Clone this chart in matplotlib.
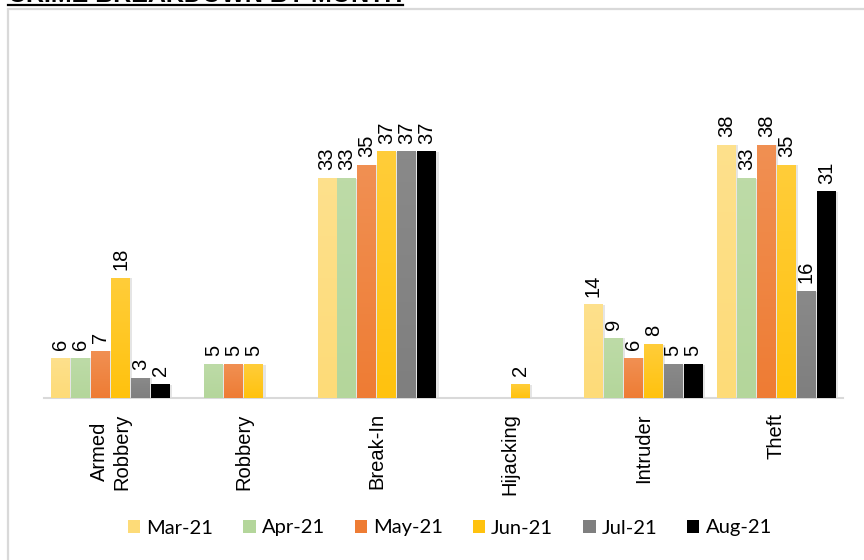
import numpy as np
import matplotlib
matplotlib.use("Agg")
import matplotlib.pyplot as plt
from matplotlib.patches import Patch, Rectangle
from matplotlib.lines import Line2D
from matplotlib.colors import LinearSegmentedColormap, to_rgb

categories = ["Armed\nRobbery", "Robbery", "Break-In", "Hijacking", "Intruder", "Theft"]
months = ["Mar-21", "Apr-21", "May-21", "Jun-21", "Jul-21", "Aug-21"]

mar21 = [6, 0, 33, 0, 14, 38]
apr21 = [6, 5, 33, 0, 9, 33]
may21 = [7, 5, 35, 0, 6, 38]
jun21 = [18, 5, 37, 2, 8, 35]
jul21 = [3, 0, 37, 0, 5, 16]
aug21 = [2, 0, 37, 0, 5, 31]

series = [mar21, apr21, may21, jun21, jul21, aug21]
colors = ["#FDDB78", "#B4D69B", "#EE7C34", "#FFC20E", "#7F7F7F", "#000000"]
shine = [0.15, 0.12, 0.15, 0.18, 0.08, 0.0]

W, H = 864, 560
fig = plt.figure(figsize=(W / 100, H / 100), dpi=100)
fig.patch.set_facecolor("white")

ax = fig.add_axes([44 / W, 1 - 398 / H, 799 / W, 332.5 / H])

x = np.arange(len(categories))
slot = 0.15
bw = 0.142


def lighten(c, f):
    r, g, b = to_rgb(c)
    return (r + (1 - r) * f, g + (1 - g) * f, b + (1 - b) * f)


grad = np.linspace(0, 1, 64).reshape(-1, 1)
for i, (vals, col) in enumerate(zip(series, colors)):
    xs = x + (i - 2.5) * slot
    # soft shadow
    ax.bar(xs + 0.018, vals, width=bw, color="black", alpha=0.10, zorder=1)
    bars = ax.bar(xs, vals, width=bw, color=col, zorder=2)
    cmap = LinearSegmentedColormap.from_list("g", [col, lighten(col, shine[i])])
    for b, v in zip(bars, vals):
        if v <= 0:
            continue
        x0 = b.get_x()
        ax.imshow(grad, extent=[x0, x0 + bw, 0, v], cmap=cmap, aspect="auto",
                  origin="lower", zorder=3)
        ax.annotate(str(v), (x0 + bw / 2, v), xytext=(0, 6), textcoords="offset points",
                    rotation=90, ha="center", va="bottom", fontsize=14.5,
                    family="Liberation Sans", color="#000000")

ax.set_xlim(-0.5, len(categories) - 0.5)
ax.set_ylim(0, 50)
ax.set_xticks(x)
ax.set_xticklabels(categories, rotation=90, fontsize=14.5, family="Liberation Sans",
                   ha="center", va="top", multialignment="center")
ax.tick_params(axis="x", length=0, pad=11)
ax.set_yticks([])
for s in ["top", "right", "left"]:
    ax.spines[s].set_visible(False)
ax.spines["bottom"].set_color("#D9D9D9")
ax.spines["bottom"].set_linewidth(1.5)

handles = [Patch(facecolor=c, edgecolor="none") for c in colors]
fig.legend(handles, months, loc="center", bbox_to_anchor=(450 / W, 1 - 528 / H), ncol=6,
           frameon=False, prop={"family": "Lato", "size": 14.5}, handlelength=0.6,
           handleheight=0.6, handletextpad=0.3, columnspacing=1.5)

# clipped title at the top
fig.text(8 / W, 1 - 2.5 / H, "CRIME BREAKDOWN BY MONTH", fontsize=18, fontweight="bold",
         family="Liberation Sans", va="baseline", ha="left")
fig.add_artist(Line2D([8 / W, 403 / W], [1 - 5 / H, 1 - 5 / H], color="black", lw=1.6,
                      transform=fig.transFigure))

# chart frame
fig.add_artist(Rectangle((8 / W, -0.1), 1.2, 1.1 - 9 / H, transform=fig.transFigure,
                         fill=False, edgecolor="#D9D9D9", lw=1.6))

fig.savefig("out.png", dpi=100)
